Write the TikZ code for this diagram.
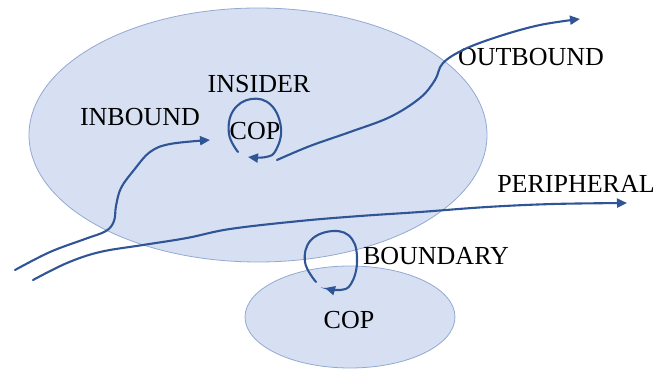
\documentclass[tikz,border=0pt]{standalone}
\usepackage{fontspec}
\setmainfont{Liberation Serif}
\usetikzlibrary{shapes.geometric,arrows.meta}
\definecolor{cloud}{HTML}{D6E0F2}
\definecolor{cloudline}{HTML}{93A9D2}
\definecolor{flowblue}{HTML}{2F5597}
\tikzset{
  blob/.style={ellipse, draw=cloudline, line width=0.8pt, fill=cloud, inner sep=0pt},
  lbl/.style={font=\fontsize{26}{30}\selectfont, inner sep=0pt, text=black},
  flow/.style={draw=flowblue, line width=2.1pt, line cap=round, -{Triangle[length=10pt,width=9pt]}},
}
\begin{document}
\begin{tikzpicture}[x=1pt,y=-1pt]
\useasboundingbox (0,0) rectangle (665,371);
% communities
\node[blob, minimum width=458pt, minimum height=254pt] (org) at (258,135) {};
\node[blob, minimum width=210pt, minimum height=102pt] (sub) at (350,317) {};
% labels
\node[lbl] (insider) at (259,84) {INSIDER};
\node[lbl] (cop1) at (255,131) {COP};
\node[lbl] (inbound) at (140,117) {INBOUND};
\node[lbl] (outbound) at (531,57) {OUTBOUND};
\node[lbl] (peripheral) at (576,184) {PERIPHERAL};
\node[lbl] (boundary) at (436,256) {BOUNDARY};
\node[lbl] (cop2) at (349,320) {COP};
% end points
\coordinate (inS) at (15,270);
\coordinate (inE) at (210,140);
\coordinate (peS) at (33,280);
\coordinate (peE) at (627,203);
\coordinate (ouS) at (277,160);
\coordinate (ouE) at (580,19);
\coordinate (isS) at (238,152);
\coordinate (isE) at (248,157);
\coordinate (bdS) at (316,282);
\coordinate (bdE) at (325,288);
% inbound
\draw[flow] plot[smooth, tension=0.6] coordinates {(inS) (50,252) (85,239) (106,231) (114,221) (116,206) (121,188) (134,170) (150,152) (170,144) (inE)};
% peripheral
\draw[flow] plot[smooth, tension=0.6] coordinates {(peS) (67,263) (100,252) (143,245) (187,238) (230,229) (300,221) (360,216) (420,212) (487,207) (553,204) (peE)};
% outbound
\draw[flow] plot[smooth, tension=0.6] coordinates {(ouS) (310,146) (350,132) (390,117) (420,98) (435,80) (443,63) (465,49) (500,36) (540,25) (ouE)};
% insider loop
\draw[flow] plot[smooth, tension=0.7] coordinates {(isS) (229,134) (233,111) (251,99) (271,105) (281,128) (276,150) (266,157) (isE)};
% boundary loop
\draw[flow] plot[smooth, tension=0.7] coordinates {(bdS) (305,262) (311,240) (334,231) (352,239) (357,262) (351,284) (340,290) (bdE)};
\end{tikzpicture}
\end{document}
